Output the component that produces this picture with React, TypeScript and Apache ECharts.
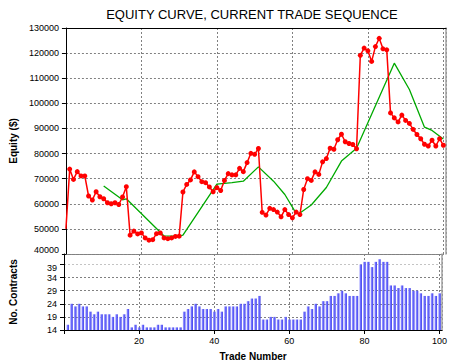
import { useEffect, useRef } from 'react';
import * as echarts from 'echarts';

// Equity after each trade (index = trade number, 0 = starting equity)
const equity = [
  50000, 73800, 69700, 72800, 71100, 71100, 63100, 61500, 64800, 62800,
  62000, 60400, 60000, 60400, 59700, 62700, 66800, 47500, 49100, 48000,
  48400, 46400, 45500, 45700, 48100, 48400, 46400, 46100, 46400, 47000,
  47100, 64700, 67700, 69500, 72700, 70800, 68800, 68400, 66700, 64800,
  66400, 65300, 69300, 72000, 71500, 71500, 74100, 72800, 76400, 80100,
  79700, 82000, 56600, 55500, 58200, 57700, 56700, 54800, 57700, 55700,
  54400, 56700, 55700, 65700, 70000, 69300, 72700, 71700, 76700, 78000,
  82100, 81700, 85500, 87700, 84700, 84000, 83600, 81900, 119100, 122000,
  120900, 116700, 122600, 125900, 121700, 121300, 96200, 94200, 92600, 95300,
  93200, 92000, 89600, 87600, 85900, 83700, 83000, 85300, 83000, 85900,
  83300,
];

// Moving-average curve (green), vertices
const maTrades = [10, 15, 16, 26, 30, 31, 40, 44, 47, 51, 55, 58, 61, 62, 65, 69, 73, 77, 87, 91, 95, 97, 100];
const maValues = [67100, 61600, 62000, 47200, 47100, 47500, 67800, 68400, 69000, 74700, 69000, 63700, 56200, 56300, 59500, 66500, 77000, 82100, 116000, 105500, 90500, 89200, 85800];

// Number of contracts for trades 1..100
const contracts = [
  16, 24, 23, 24, 23, 23, 21, 20, 21, 20,
  20, 20, 19, 20, 19, 20, 22, 15, 16, 15,
  16, 15, 15, 15, 16, 16, 15, 15, 15, 15,
  15, 21, 22, 23, 24, 23, 22, 22, 22, 21,
  22, 21, 23, 23, 23, 23, 24, 24, 25, 26,
  26, 27, 18, 18, 19, 19, 18, 18, 19, 18,
  18, 18, 18, 21, 23, 22, 24, 23, 25, 25,
  27, 27, 28, 29, 28, 27, 27, 27, 39, 40,
  40, 38, 40, 41, 40, 40, 31, 31, 30, 31,
  30, 30, 29, 29, 28, 27, 27, 28, 27, 28,
];
const contractBase = 14; // lowest tick of the contracts axis
const contractTop = 43;

const titleText = 'EQUITY CURVE, CURRENT TRADE SEQUENCE';

export default function App() {
  const ref = useRef<HTMLDivElement>(null);
  useEffect(() => {
    const chart = echarts.init(ref.current!, null, { renderer: 'svg' });
    const font = '"Liberation Sans", Arial, sans-serif';
    const dotted = { color: '#808080', type: [2, 2], width: 1 };
    const labelBase = { fontSize: 9, color: '#000', fontFamily: font };
    const nameStyle = { fontSize: 10, fontWeight: 'bold', color: '#000', fontFamily: font };
    const barColor = new echarts.graphic.LinearGradient(0, 0, 1, 0, [
      { offset: 0, color: '#b4b4ff' },
      { offset: 0.45, color: '#6a6aff' },
      { offset: 1, color: '#4646e6' },
    ]);
    const option = {
      animation: false,
      backgroundColor: '#ffffff',
      textStyle: { fontFamily: font },
      graphic: [
        {
          type: 'text',
          x: 252,
          y: 14,
          style: { text: titleText, fill: '#000', font: '13px "Liberation Sans", Arial, sans-serif', align: 'center', verticalAlign: 'middle' },
        },
      ],
      grid: [
        { left: 57, top: 28, width: 389, height: 226 },
        { left: 57, top: 254, width: 389, height: 76 },
      ],
      xAxis: [
        {
          type: 'value', gridIndex: 0, min: 0, max: 100.7, interval: 20, position: 'top',
          axisLine: { show: true, onZero: false, lineStyle: { color: '#000', width: 1 } },
          axisTick: { show: false }, axisLabel: { show: false },
          splitLine: { show: true, lineStyle: dotted },
        },
        {
          type: 'value', gridIndex: 1, min: 0, max: 100.7, interval: 20, position: 'bottom',
          axisLine: { show: true, onZero: false, lineStyle: { color: '#000', width: 1 } },
          axisTick: { show: true, length: 4, lineStyle: { color: '#000' } },
          axisLabel: { ...labelBase, margin: 6, showMaxLabel: false, formatter: (v: number) => (v > 0 && v % 20 === 0 ? String(v) : '') },
          splitLine: { show: true, lineStyle: dotted },
          name: 'Trade Number', nameLocation: 'middle', nameGap: 21, nameTextStyle: nameStyle,
        },
      ],
      yAxis: [
        {
          type: 'value', gridIndex: 0, min: 40000, max: 130000, interval: 10000,
          axisLine: { show: true, onZero: false, lineStyle: { color: '#000', width: 1 } },
          axisTick: { show: true, length: 4, lineStyle: { color: '#000' } },
          axisLabel: {
            ...labelBase, margin: 7,
            formatter: (v: number) => (v === 40000 ? '{u|40000}' : String(v)),
            rich: { u: { ...labelBase, padding: [0, 0, 9, 0] } },
          },
          splitLine: { show: true, lineStyle: dotted },
          name: 'Equity ($)', nameLocation: 'middle', nameGap: 46, nameRotate: 90, nameTextStyle: nameStyle,
        },
        {
          type: 'value', gridIndex: 1, min: 0, max: contractTop - contractBase, interval: 5,
          axisLine: { show: true, onZero: false, lineStyle: { color: '#000', width: 1 } },
          axisTick: { show: true, length: 4, lineStyle: { color: '#000' } },
          axisLabel: {
            ...labelBase, margin: 7, showMaxLabel: false,
            formatter: (v: number) => {
              if (v > 25) return '';
              if (v === 25) return '{d|' + (v + contractBase) + '}';
              return String(v + contractBase);
            },
            rich: { d: { ...labelBase, padding: [8, 0, 0, 0] } },
          },
          splitLine: { show: true, lineStyle: { color: ['#808080', '#808080', '#808080', '#808080', '#808080', '#c4c4c4', '#808080'], type: [2, 2], width: 1 } },
          name: 'No. Contracts', nameLocation: 'middle', nameGap: 46, nameRotate: 90, nameTextStyle: nameStyle,
        },
        {
          type: 'value', gridIndex: 0, position: 'right', min: 0, max: 1,
          axisLine: { show: true, onZero: false, lineStyle: { color: '#a0a0a0', width: 1.5 } },
          axisTick: { show: false }, axisLabel: { show: false }, splitLine: { show: false },
        },
        {
          type: 'value', gridIndex: 1, position: 'right', min: 0, max: 1,
          axisLine: { show: true, onZero: false, lineStyle: { color: '#a0a0a0', width: 1.5 } },
          axisTick: { show: false }, axisLabel: { show: false }, splitLine: { show: false },
        },
      ],
      series: [
        {
          type: 'bar', xAxisIndex: 1, yAxisIndex: 1,
          data: contracts.map((c, i) => [i + 1, c - contractBase]),
          barWidth: 2.6,
          itemStyle: { color: barColor },
          z: 2,
        },
        {
          type: 'line', xAxisIndex: 0, yAxisIndex: 0,
          data: maTrades.map((t, i) => [t, maValues[i]]),
          symbol: 'none',
          lineStyle: { color: '#00aa00', width: 1.3 },
          z: 3,
        },
        {
          type: 'line', xAxisIndex: 0, yAxisIndex: 0,
          data: equity.map((v, i) => (i === 0 ? { value: [i, v], symbol: 'none' } : [i, v])),
          symbol: 'circle', symbolSize: 5,
          itemStyle: { color: '#ff0000' },
          lineStyle: { color: '#ff0000', width: 1.5 },
          z: 4,
        },
      ],
    };
    chart.setOption(option as any);
    return () => chart.dispose();
  }, []);
  return <div ref={ref} style={{ position: 'fixed', left: 0, top: 0, width: 450, height: 362, background: '#fff' }} />;
}
